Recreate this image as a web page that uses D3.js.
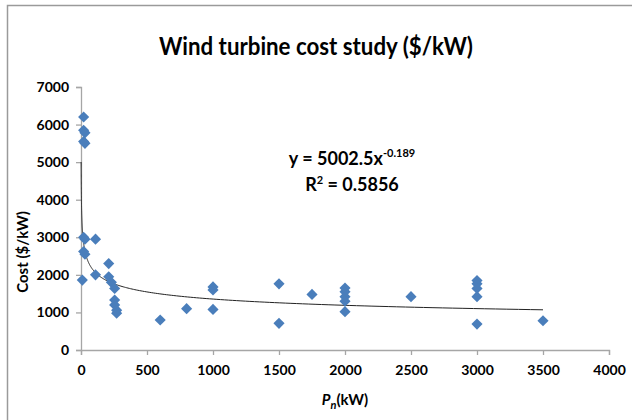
<!DOCTYPE html>
<html>
<head>
<meta charset="utf-8">
<script src="https://cdn.jsdelivr.net/npm/d3@7"></script>
<style>
  body { margin: 0; background: #fff; }
  text { font-family: Lato, "Open Sans", sans-serif; fill: #000; }
</style>
</head>
<body>
<div id="scatter"></div>
<script>
// data
var ratedPower = [20, 20, 30, 20, 30, 20, 30, 110, 20, 30, 10, 110, 210, 210, 230, 255, 255, 255, 270, 270,
  600, 800, 1000, 1000, 1000, 1500, 1500, 1750, 2000, 2000, 2000, 2000, 2000, 2500,
  3000, 3000, 3000, 3000, 3000, 3500];
var costPerKw = [6200, 5850, 5780, 5550, 5500, 3000, 2950, 2950, 2620, 2550, 1860, 2000, 2300, 1950, 1800, 1640, 1330, 1200, 1060, 980,
  800, 1100, 1680, 1600, 1080, 1760, 710, 1480, 1650, 1550, 1420, 1300, 1020, 1420,
  1850, 1760, 1640, 1420, 690, 780];

var xTicks = [0, 500, 1000, 1500, 2000, 2500, 3000, 3500, 4000];
var yTicks = [0, 1000, 2000, 3000, 4000, 5000, 6000, 7000];

// power trendline y = a * x^b (from the chart label)
var trendA = 5002.5;
var trendB = -0.189;
var trendLabel = "y = 5002.5x";
var trendExp = "-0.189";
var r2Label = "0.5856";

var svgWidth = 632;
var svgHeight = 420;

var margin = { top: 87, right: 23, bottom: 70, left: 81 };
var width = svgWidth - margin.left - margin.right;
var height = svgHeight - margin.top - margin.bottom;

var svg = d3.select("#scatter")
  .append("svg")
  .attr("width", svgWidth)
  .attr("height", svgHeight);

// chart frame (cropped on right / bottom)
svg.append("path")
  .attr("d", "M7.5,420 V5.5 H632")
  .attr("fill", "none")
  .attr("stroke", "#9a9a9a")
  .attr("stroke-width", 1.5);

svg.append("text")
  .attr("x", 316)
  .attr("y", 55)
  .attr("text-anchor", "middle")
  .attr("font-size", "25px")
  .attr("font-weight", "bold")
  .attr("textLength", 314)
  .attr("lengthAdjust", "spacingAndGlyphs")
  .text("Wind turbine cost study ($/kW)");

var chartGroup = svg.append("g")
  .attr("transform", `translate(${margin.left}, ${margin.top})`);

var xScale = d3.scaleLinear().domain([0, 4000]).range([0, width]);
var yScale = d3.scaleLinear().domain([0, 7000]).range([height, 0]);

var bottomAxis = d3.axisBottom(xScale).tickValues(xTicks).tickFormat(d3.format("d")).tickSize(5).tickPadding(10);
var leftAxis = d3.axisLeft(yScale).tickValues(yTicks).tickFormat(d3.format("d")).tickSize(5).tickPadding(7);

var xAxis = chartGroup.append("g")
  .attr("transform", `translate(0, ${height})`)
  .call(bottomAxis);

var yAxis = chartGroup.append("g")
  .call(leftAxis);

[xAxis, yAxis].forEach(function(ax) {
  ax.select(".domain").attr("stroke", "#a6a6a6").attr("stroke-width", 1.3);
  ax.selectAll(".tick line").attr("stroke", "#a6a6a6").attr("stroke-width", 1.3);
  ax.selectAll(".tick text")
    .attr("font-size", "14px")
    .attr("font-weight", "bold")
    .attr("font-family", "Lato, sans-serif")
    .attr("fill", "#111");
});

// trendline
var trendX = d3.range(0, 301).map(function(i) { return Math.pow(3500, i / 300); });
var trendLine = d3.line()
  .x(function(d) { return xScale(d); })
  .y(function(d) { return yScale(trendA * Math.pow(d, trendB)); });

chartGroup.append("path")
  .datum(trendX)
  .attr("d", trendLine)
  .attr("fill", "none")
  .attr("stroke", "#222")
  .attr("stroke-width", 1);

// diamonds
var points = ratedPower.map(function(p, i) { return { pn: p, cost: costPerKw[i] }; });
var diamond = d3.symbol().type(d3.symbolSquare).size(62);

chartGroup.selectAll(".pt")
  .data(points)
  .enter()
  .append("path")
  .attr("class", "pt")
  .attr("d", diamond)
  .attr("transform", d => `translate(${xScale(d.pn)}, ${yScale(d.cost)}) rotate(45)`)
  .attr("fill", "#4a7ebb");

// equation labels
var eq = svg.append("text")
  .attr("x", 352)
  .attr("y", 165)
  .attr("text-anchor", "middle")
  .attr("font-size", "18px")
  .attr("font-weight", "bold");
eq.append("tspan").text(trendLabel);
eq.append("tspan").attr("dy", -8).attr("font-size", "11px").text(trendExp);

var r2 = svg.append("text")
  .attr("x", 352)
  .attr("y", 191)
  .attr("text-anchor", "middle")
  .attr("font-size", "18px")
  .attr("font-weight", "bold");
r2.append("tspan").text("R");
r2.append("tspan").attr("dy", -7).attr("font-size", "11px").text("2");
r2.append("tspan").attr("dy", 7).text(" = " + r2Label);

// axis titles
svg.append("text")
  .attr("transform", "translate(28, 252) rotate(-90)")
  .attr("text-anchor", "middle")
  .attr("font-size", "15px")
  .attr("font-weight", "bold")
  .text("Cost ($/kW)");

var xlab = svg.append("text")
  .attr("x", 345)
  .attr("y", 405)
  .attr("text-anchor", "middle")
  .attr("font-size", "15px")
  .attr("font-weight", "bold");
xlab.append("tspan").attr("font-style", "italic").text("P");
xlab.append("tspan").attr("font-style", "italic").attr("dy", 4).attr("font-size", "11px").text("n");
xlab.append("tspan").attr("dy", -4).text("(kW)");
</script>
</body>
</html>
